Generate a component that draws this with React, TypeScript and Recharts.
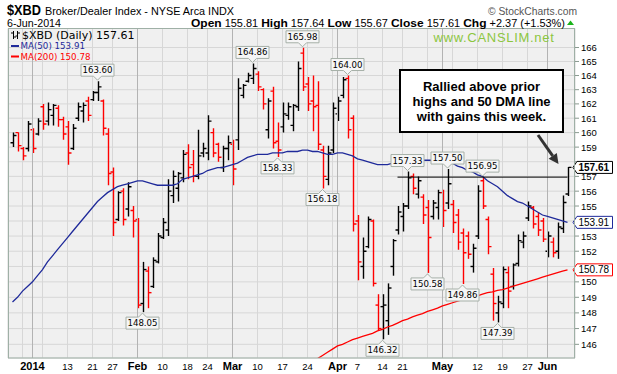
import React from 'react';
import { ComposedChart, Bar, Line, XAxis, YAxis, CartesianGrid, ReferenceLine, ReferenceDot } from 'recharts';

// trading days shown on the chart
const dates = [
  '2013-12-26', '2013-12-27', '2013-12-30', '2013-12-31',
  '2014-01-02', '2014-01-03', '2014-01-06', '2014-01-07', '2014-01-08', '2014-01-09', '2014-01-10',
  '2014-01-13', '2014-01-14', '2014-01-15', '2014-01-16', '2014-01-17',
  '2014-01-21', '2014-01-22', '2014-01-23', '2014-01-24',
  '2014-01-27', '2014-01-28', '2014-01-29', '2014-01-30', '2014-01-31',
  '2014-02-03', '2014-02-04', '2014-02-05', '2014-02-06', '2014-02-07',
  '2014-02-10', '2014-02-11', '2014-02-12', '2014-02-13', '2014-02-14',
  '2014-02-18', '2014-02-19', '2014-02-20', '2014-02-21',
  '2014-02-24', '2014-02-25', '2014-02-26', '2014-02-27', '2014-02-28',
  '2014-03-03', '2014-03-04', '2014-03-05', '2014-03-06', '2014-03-07',
  '2014-03-10', '2014-03-11', '2014-03-12', '2014-03-13', '2014-03-14',
  '2014-03-17', '2014-03-18', '2014-03-19', '2014-03-20', '2014-03-21',
  '2014-03-24', '2014-03-25', '2014-03-26', '2014-03-27', '2014-03-28',
  '2014-03-31', '2014-04-01', '2014-04-02', '2014-04-03', '2014-04-04',
  '2014-04-07', '2014-04-08', '2014-04-09', '2014-04-10', '2014-04-11',
  '2014-04-14', '2014-04-15', '2014-04-16', '2014-04-17',
  '2014-04-21', '2014-04-22', '2014-04-23', '2014-04-24', '2014-04-25',
  '2014-04-28', '2014-04-29', '2014-04-30', '2014-05-01', '2014-05-02',
  '2014-05-05', '2014-05-06', '2014-05-07', '2014-05-08', '2014-05-09',
  '2014-05-12', '2014-05-13', '2014-05-14', '2014-05-15', '2014-05-16',
  '2014-05-19', '2014-05-20', '2014-05-21', '2014-05-22', '2014-05-23',
  '2014-05-27', '2014-05-28', '2014-05-29', '2014-05-30',
  '2014-06-02', '2014-06-03', '2014-06-04', '2014-06-05', '2014-06-06',
];

const opens = [
  159.3, 160.0, 158.9, 158.9, 160.2, 159.9, 161.8, 160.8, 161.2, 161.7, 160.9,
  160.4, 158.9, 161.0, 161.5, 162.2, 162.3, 162.8, 162.2, 159.9, 157.3, 154.1, 156.0, 154.8, 154.7,
  154.1, 148.6, 150.7, 149.7, 151.3, 152.9, 153.4, 155.7, 156.2, 156.9, 158.6, 157.8, 157.0, 158.6,
  158.6, 160.0, 159.2, 157.6, 158.9, 159.2, 159.5, 162.6, 163.6, 163.8, 164.1, 163.0, 160.2, 162.9, 159.4,
  160.4, 161.2, 160.5, 161.8, 165.6, 163.4, 162.2, 161.9, 158.8, 156.8, 158.8, 161.3, 162.6, 163.8, 161.0,
  154.0, 151.0, 152.3, 154.0, 148.5, 148.4, 147.5, 151.0, 153.4, 154.3, 155.0, 157.0, 155.8, 155.6,
  154.9, 154.3, 154.9, 155.9, 155.2, 155.1, 154.4, 153.2, 153.0, 151.0, 153.0, 156.7, 154.1, 150.5, 148.0,
  148.6, 150.6, 149.7, 151.2, 152.6, 154.2, 154.9, 154.3, 154.0, 152.0, 152.6, 152.0, 153.5, 155.81,
];
const highs = [
  160.0, 160.0, 159.0, 160.8, 160.3, 161.0, 162.0, 162.1, 162.0, 161.9, 161.1,
  160.8, 160.6, 162.1, 162.1, 162.5, 162.9, 163.6, 162.3, 160.3, 157.6, 156.0, 156.2, 156.6, 155.0,
  154.2, 151.3, 151.0, 151.6, 153.2, 154.2, 156.8, 157.4, 157.3, 158.8, 159.2, 158.8, 160.2, 159.3,
  161.2, 160.3, 159.3, 159.1, 159.8, 159.5, 163.8, 163.4, 164.2, 164.86, 164.3, 163.1, 162.4, 163.2, 160.7,
  162.1, 162.1, 162.0, 165.0, 165.98, 163.9, 164.0, 163.6, 159.1, 159.1, 162.1, 162.5, 163.9, 164.0, 161.2,
  154.4, 152.9, 154.3, 154.1, 149.2, 149.2, 149.9, 152.8, 155.0, 155.2, 157.33, 157.2, 157.0, 155.8,
  155.4, 155.4, 156.1, 156.1, 157.5, 155.4, 154.8, 153.5, 153.3, 152.5, 156.4, 156.95, 154.3, 150.9, 149.1,
  151.0, 151.0, 151.2, 153.1, 153.3, 155.3, 155.0, 154.6, 154.2, 153.3, 152.9, 153.9, 155.7, 157.64,
];
const lows = [
  159.0, 158.7, 158.1, 158.7, 158.6, 159.8, 160.2, 160.5, 160.5, 160.4, 159.5,
  157.8, 158.8, 160.8, 160.7, 160.8, 162.2, 162.2, 159.8, 156.4, 153.0, 154.0, 153.7, 154.3, 152.9,
  148.3, 148.05, 148.3, 149.6, 151.2, 152.8, 153.0, 155.2, 155.3, 156.6, 156.8, 156.6, 156.8, 158.3,
  158.1, 158.3, 158.0, 157.3, 158.1, 156.4, 158.8, 162.4, 163.5, 163.4, 162.9, 161.6, 159.6, 158.9, 158.33,
  160.0, 160.9, 160.1, 161.5, 162.9, 161.5, 160.1, 158.8, 156.18, 156.4, 158.6, 160.8, 162.4, 159.6, 153.3,
  150.1, 150.2, 152.2, 149.7, 146.9, 146.32, 146.6, 150.4, 153.1, 153.3, 154.8, 155.8, 155.5, 153.8,
  150.58, 154.1, 154.1, 153.6, 154.8, 153.2, 152.1, 149.86, 151.5, 150.6, 152.8, 154.8, 151.8, 147.5, 147.39,
  148.3, 148.3, 149.5, 151.0, 152.2, 154.0, 153.5, 153.0, 152.6, 151.6, 151.6, 151.5, 153.2, 155.67,
];
const closes = [
  159.8, 159.1, 158.4, 160.6, 158.9, 160.8, 160.6, 161.6, 161.9, 160.9, 159.9,
  158.6, 160.3, 161.8, 161.9, 161.2, 162.8, 163.2, 160.3, 157.2, 153.9, 155.9, 154.1, 156.3, 154.0,
  148.5, 150.8, 149.3, 151.4, 153.0, 153.9, 156.0, 157.0, 157.2, 158.5, 157.6, 157.0, 158.4, 158.9,
  160.8, 158.6, 158.3, 158.9, 159.3, 157.5, 163.1, 163.3, 164.0, 164.5, 163.2, 162.0, 162.2, 159.3, 158.8,
  161.3, 161.8, 161.9, 164.5, 163.2, 162.0, 161.8, 159.2, 157.0, 158.6, 161.7, 162.2, 163.7, 160.2, 153.8,
  151.3, 152.0, 154.1, 149.9, 147.0, 148.5, 149.6, 152.7, 154.6, 155.0, 156.9, 156.2, 156.7, 154.4,
  152.9, 155.2, 155.9, 154.7, 156.5, 153.9, 152.6, 151.9, 151.8, 152.2, 156.0, 155.0, 152.3, 148.6, 148.7,
  150.8, 149.4, 151.1, 152.7, 153.0, 155.0, 153.8, 153.4, 152.8, 153.0, 151.9, 153.6, 155.24, 157.61,
];

const ma50 = [
  148.7, 149.0, 149.4, 149.7, 150.0, 150.4, 150.8, 151.3, 151.7, 152.1, 152.5,
  152.9, 153.3, 153.7, 154.1, 154.5, 154.9, 155.3, 155.6, 155.9, 156.1, 156.3, 156.4, 156.5, 156.6,
  156.7, 156.7, 156.6, 156.5, 156.4, 156.4, 156.4, 156.4, 156.5, 156.8, 156.9, 157.0, 157.1, 157.2,
  157.4, 157.5, 157.6, 157.6, 157.7, 157.8, 157.9, 158.1, 158.3, 158.4, 158.5, 158.5, 158.5, 158.6, 158.6,
  158.6, 158.7, 158.7, 158.7, 158.8, 158.8, 158.7, 158.7, 158.6, 158.5, 158.5, 158.6, 158.6, 158.5, 158.4,
  158.2, 158.1, 158.0, 157.9, 157.8, 157.8, 157.8, 157.9, 157.9, 157.9, 158.0, 158.0, 158.0, 158.1,
  158.1, 158.1, 158.1, 158.0, 157.9, 157.9, 157.7, 157.6, 157.4, 157.3, 157.1, 157.0, 156.7, 156.5, 156.3,
  156.0, 155.7, 155.5, 155.3, 155.2, 155.0, 154.8, 154.6, 154.4, 154.3, 154.2, 154.1, 154.0, 153.91,
];
const ma200 = [
  ...Array(58).fill(null),
  144.5, 144.7, 144.9, 145.1, 145.3, 145.5, 145.7, 145.9, 146.0, 146.15, 146.3,
  146.4, 146.5, 146.6, 146.7, 146.85, 146.95, 147.1, 147.2, 147.35, 147.5, 147.6, 147.75, 147.85, 147.95,
  148.1, 148.2, 148.3, 148.45, 148.55, 148.65, 148.75, 148.85, 148.9, 149.0, 149.1, 149.2, 149.3, 149.35, 149.45,
  149.5, 149.6, 149.7, 149.8, 149.9, 150.0, 150.1, 150.2, 150.3, 150.4, 150.5, 150.6, 150.7, 150.78,
];

// weekly grid lines, labelled ones and month starts
const gridDates = [
  '2013-12-30', '2014-01-02', '2014-01-06', '2014-01-13', '2014-01-21', '2014-01-27',
  '2014-02-03', '2014-02-10', '2014-02-18', '2014-02-24', '2014-03-03', '2014-03-10',
  '2014-03-17', '2014-03-24', '2014-03-31', '2014-04-01', '2014-04-07', '2014-04-14',
  '2014-04-21', '2014-04-28', '2014-05-01', '2014-05-05', '2014-05-12', '2014-05-19',
  '2014-05-27', '2014-06-02',
];
const tickLabels: Record<string, string> = {
  '2014-01-02': '2014', '2014-01-13': '13', '2014-01-21': '21', '2014-01-27': '27',
  '2014-02-03': 'Feb', '2014-02-10': '10', '2014-02-18': '18', '2014-02-24': '24',
  '2014-03-03': 'Mar', '2014-03-10': '10', '2014-03-17': '17', '2014-03-24': '24',
  '2014-04-01': 'Apr', '2014-04-07': '7', '2014-04-14': '14', '2014-04-21': '21',
  '2014-05-01': 'May', '2014-05-12': '12', '2014-05-19': '19', '2014-05-27': '27',
  '2014-06-02': 'Jun',
};
const monthDates = ['2014-01-02', '2014-02-03', '2014-03-03', '2014-04-01', '2014-05-01', '2014-06-02'];
const yTicks = [146, 147, 148, 149, 150, 151, 152, 153, 154, 155, 156, 157, 158, 159, 160, 161, 162, 163, 164, 165, 166];
// axis labels hidden behind the closing-value tags
const hiddenYLabels = [151, 154, 158];

// high / low call-outs
const callouts = [
  { date: '2014-01-22', value: 163.6, side: 'up' },
  { date: '2014-03-07', value: 164.86, side: 'up' },
  { date: '2014-03-21', value: 165.98, side: 'up' },
  { date: '2014-04-03', value: 164.0, side: 'up' },
  { date: '2014-03-14', value: 158.33, side: 'down' },
  { date: '2014-03-27', value: 156.18, side: 'down' },
  { date: '2014-02-04', value: 148.05, side: 'down' },
  { date: '2014-04-14', value: 146.32, side: 'down' },
  { date: '2014-04-22', value: 157.33, side: 'up' },
  { date: '2014-05-02', value: 157.5, side: 'up' },
  { date: '2014-05-13', value: 156.95, side: 'up' },
  { date: '2014-04-28', value: 150.58, side: 'down' },
  { date: '2014-05-07', value: 149.86, side: 'down' },
  { date: '2014-05-16', value: 147.39, side: 'down' },
];
const lastTags = [
  { value: 157.61, stroke: '#000000', bold: true },
  { value: 153.91, stroke: '#1f2a9a', bold: false },
  { value: 150.78, stroke: '#ff0000', bold: false },
];
const resistance = { from: '2014-04-17', to: '2014-06-06', value: 156.95 };

const UP = '#000000';
const DOWN = '#ff0000';
const BLUE = '#1f2a9a';
const SANS = '"Liberation Sans", Arial, sans-serif';
const VERD = '"DejaVu Sans", Verdana, sans-serif';

const data = dates.map((d, i) => ({
  date: d,
  range: [lows[i], highs[i]],
  open: opens[i],
  high: highs[i],
  low: lows[i],
  close: closes[i],
  ma50: ma50[i],
  ma200: ma200[i],
}));

const OhlcBar = (props: any) => {
  const { x, y, width, height, payload, index } = props;
  if (!payload) return null;
  const top = Math.min(y, y + height);
  const h = Math.abs(height);
  const cx = Math.round(x + width / 2) + 0.5;
  const lh = Math.log(payload.high);
  const ll = Math.log(payload.low);
  const py = (v: number) => top + ((lh - Math.log(v)) / (lh - ll)) * h;
  const prev = index > 0 ? closes[index - 1] : payload.open;
  const color = payload.close >= prev ? UP : DOWN;
  return (
    <g stroke={color} strokeWidth={1.4}>
      <line x1={cx} x2={cx} y1={top} y2={top + h} />
      <line x1={cx - 3} x2={cx} y1={py(payload.open)} y2={py(payload.open)} />
      <line x1={cx} x2={cx + 3} y1={py(payload.close)} y2={py(payload.close)} />
    </g>
  );
};

const Callout = ({ cx, cy, text, side }: any) => {
  const w = 33;
  const h = 12;
  const gap = 5;
  const l = cx - w / 2;
  const r = cx + w / 2;
  let path;
  let ty;
  if (side === 'up') {
    const b = cy - gap;
    path = `M${l},${b - h} H${r} V${b} H${cx + 4} L${cx},${cy - 1} L${cx - 4},${b} H${l} Z`;
    ty = b - 3;
  } else {
    const t = cy + gap;
    path = `M${l},${t} H${cx - 4} L${cx},${cy + 1} L${cx + 4},${t} H${r} V${t + h} H${l} Z`;
    ty = t + h - 3;
  }
  return (
    <g>
      <path d={path} fill="#f6f6f6" stroke="#a6b0a8" strokeWidth={1} />
      <text x={cx} y={ty} textAnchor="middle" fontSize={8.6} fontFamily={VERD} fill="#000">{text}</text>
    </g>
  );
};

const EndTag = ({ cx, cy, text, stroke, bold }: any) => {
  const tip = cx + 5.5;
  const s = tip + 4;
  const e = cx + 45;
  return (
    <g>
      <path d={`M${tip},${cy} L${s},${cy - 6} H${e} V${cy + 6} H${s} Z`} fill="#ffffff" stroke={stroke} strokeWidth={1} />
      <text x={s + 1.5} y={cy + 3.6} fontSize={10} fontWeight={bold ? 'bold' : 'normal'} fontFamily={SANS} fill="#000">{text}</text>
    </g>
  );
};

const XTick = (props: any) => {
  const { x, payload } = props;
  const label = tickLabels[payload.value];
  if (!label) return <g />;
  const bold = monthDates.includes(payload.value);
  return (
    <text x={x} y={370} textAnchor="middle" fontFamily={SANS} fontSize={bold ? 11 : 9.5} fontWeight={bold ? 'bold' : 'normal'} fill="#000">
      {label}
    </text>
  );
};

const YTick = (props: any) => {
  const { x, y, payload } = props;
  if (hiddenYLabels.includes(payload.value)) return <g />;
  return (
    <text x={x} y={y + 3.5} fontFamily={SANS} fontSize={9.5} fill="#000">
      {payload.value}
    </text>
  );
};

export default function App() {
  return (
    <div style={{ position: 'absolute', left: 0, top: 0, width: 617, height: 374, background: '#fff', fontFamily: SANS }}>
      <ComposedChart width={617} height={374} data={data} margin={{ top: 28.5, right: 0, left: 8, bottom: 0 }} barCategoryGap={0}>
        <CartesianGrid stroke="#d7d7d7" fill="#f0f0f0" />
        {monthDates.map((d) => (
          <ReferenceLine key={d} x={d} stroke="#b3b3b3" strokeWidth={1} />
        ))}
        <XAxis
          dataKey="date"
          ticks={gridDates}
          interval={0}
          tick={<XTick />}
          axisLine={false}
          tickLine={false}
          height={16}
          padding={{ left: 2, right: 5 }}
        />
        <YAxis
          orientation="right"
          scale="log"
          domain={[145.14, 167.37]}
          allowDataOverflow
          ticks={yTicks}
          interval={0}
          width={42}
          tickSize={4}
          tickMargin={2}
          axisLine={false}
          tickLine={{ stroke: '#8a9a90' }}
          tick={<YTick />}
        />
        <Bar dataKey="range" shape={OhlcBar} isAnimationActive={false} />
        <Line dataKey="ma50" stroke={BLUE} strokeWidth={1.3} dot={false} activeDot={false} isAnimationActive={false} />
        <Line dataKey="ma200" stroke={DOWN} strokeWidth={1.3} dot={false} activeDot={false} isAnimationActive={false} connectNulls={false} />
        <ReferenceLine
          segment={[{ x: resistance.from, y: resistance.value }, { x: resistance.to, y: resistance.value }]}
          stroke="#000"
          strokeWidth={1}
        />
        {callouts.map((c) => (
          <ReferenceDot
            key={c.date}
            x={c.date}
            y={c.value}
            r={0}
            ifOverflow="visible"
            shape={(p: any) => <Callout cx={p.cx} cy={p.cy} text={c.value.toFixed(2)} side={c.side} />}
          />
        ))}
        {lastTags.map((t) => (
          <ReferenceDot
            key={t.value}
            x={dates[dates.length - 1]}
            y={t.value}
            r={0}
            ifOverflow="visible"
            shape={(p: any) => <EndTag cx={p.cx} cy={p.cy} text={t.value.toFixed(2)} stroke={t.stroke} bold={t.bold} />}
          />
        ))}
      </ComposedChart>

      <svg width={617} height={374} style={{ position: 'absolute', left: 0, top: 0, pointerEvents: 'none' }}>
        {/* plot frame */}
        <rect x={8.5} y={28.5} width={566} height={329.5} fill="none" stroke="#9fb0a6" strokeWidth={1} />

        {/* header, squeezed to a narrow face */}
        <g fontFamily={SANS}>
          <text x={7} y={15} fontSize={15.5} fontWeight="bold" fill="#000" textLength={34} lengthAdjust="spacingAndGlyphs">$XBD</text>
          <text x={45} y={14.5} fontSize={11.5} fill="#000" textLength={189} lengthAdjust="spacingAndGlyphs">Broker/Dealer Index - NYSE Arca INDX</text>
          <text x={488} y={14.5} fontSize={11.5} fill="#555" textLength={89} lengthAdjust="spacingAndGlyphs">© StockCharts.com</text>
          <text x={7} y={27} fontSize={10.5} fill="#000" textLength={54} lengthAdjust="spacingAndGlyphs">6-Jun-2014</text>
          <text x={191} y={27} fontSize={10.5} fill="#000" textLength={374} lengthAdjust="spacingAndGlyphs">
            <tspan fontWeight="bold" fontSize={11.5}>Open</tspan> 155.81 <tspan fontWeight="bold" fontSize={11.5}>High</tspan> 157.64{' '}
            <tspan fontWeight="bold" fontSize={11.5}>Low</tspan> 155.67 <tspan fontWeight="bold" fontSize={11.5}>Close</tspan> 157.61{' '}
            <tspan fontWeight="bold" fontSize={11.5}>Chg</tspan> +2.37 (+1.53%)
          </text>
        </g>
        <path d="M567,25 L574,25 L570.5,20.5 Z" fill="#19b319" />

        {/* legend */}
        <g stroke="#000" strokeWidth={1}>
          <line x1={13.5} x2={13.5} y1={31} y2={39} />
          <line x1={11} x2={13.5} y1={33} y2={33} />
          <line x1={13.5} x2={16} y1={37} y2={37} />
          <line x1={17.5} x2={17.5} y1={31} y2={39} />
          <line x1={15.5} x2={17.5} y1={36} y2={36} />
          <line x1={17.5} x2={20} y1={33} y2={33} />
        </g>
        <text x={22} y={39} fontFamily={VERD} fontSize={11} fill="#000">$XBD (Daily) 157.61</text>
        <line x1={11} x2={19} y1={46} y2={46} stroke={BLUE} strokeWidth={2} />
        <text x={20.5} y={49.3} fontFamily={VERD} fontSize={8.7} fill={BLUE}>MA(50) 153.91</text>
        <line x1={11} x2={19} y1={56.5} y2={56.5} stroke={DOWN} strokeWidth={2} />
        <text x={20.5} y={59.8} fontFamily={VERD} fontSize={8.7} fill={DOWN}>MA(200) 150.78</text>

        {/* watermark */}
        <text x={494} y={41.5} textAnchor="middle" fontFamily={SANS} fontSize={13} letterSpacing={0.7} fill="#8cc63f">www.CANSLIM.net</text>

        {/* comment box */}
        <rect x={400} y={70} width={163} height={62} fill="#ffffff" stroke="#000" strokeWidth={2} />
        <g fontFamily={SANS} fontSize={13} fontWeight="bold" fill="#000" textAnchor="middle">
          <text x={481.5} y={91}>Rallied above prior</text>
          <text x={481.5} y={106}>highs and 50 DMA line</text>
          <text x={481.5} y={121}>with gains this week.</text>
        </g>
        <line x1={538} y1={135} x2={552.7} y2={155.8} stroke="#333" strokeWidth={3} />
        <path d="M558.5,164 L548.6,158.7 L556.8,152.9 Z" fill="#333" />
      </svg>
    </div>
  );
}
